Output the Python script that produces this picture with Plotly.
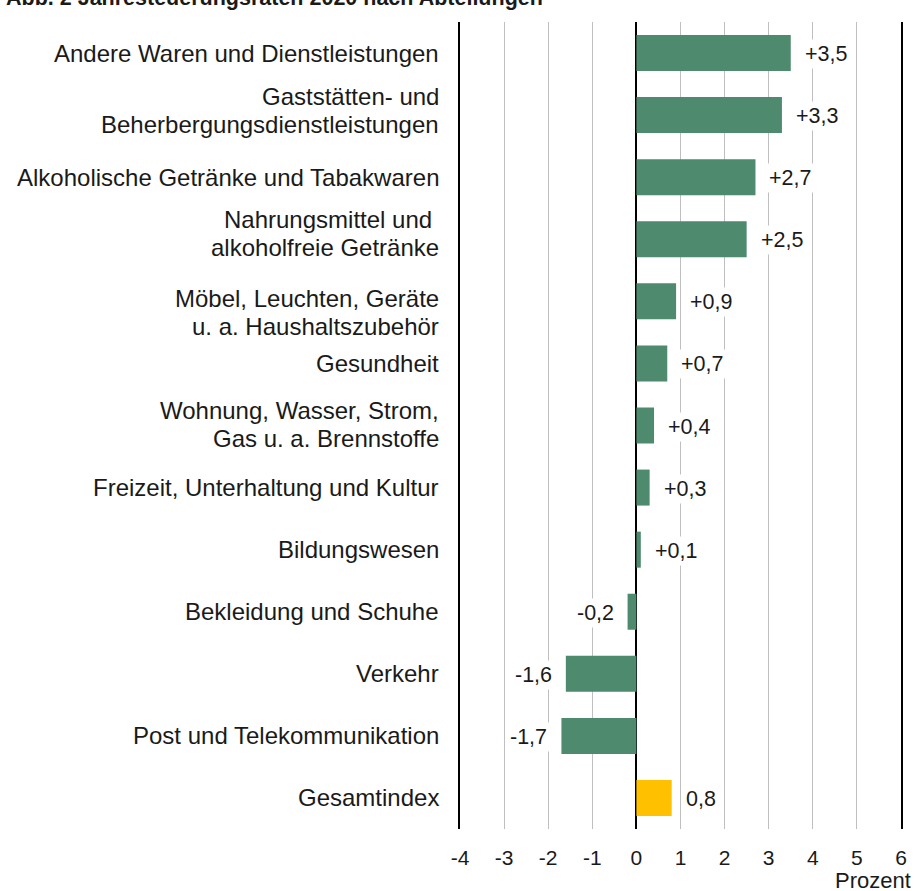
import plotly.graph_objects as go

categories = [
    "Andere Waren und Dienstleistungen",
    "Gaststätten- und<br>Beherbergungsdienstleistungen",
    "Alkoholische Getränke und Tabakwaren",
    "Nahrungsmittel und <br>alkoholfreie Getränke",
    "Möbel, Leuchten, Geräte<br>u. a. Haushaltszubehör",
    "Gesundheit",
    "Wohnung, Wasser, Strom,<br>Gas u. a. Brennstoffe",
    "Freizeit, Unterhaltung und Kultur",
    "Bildungswesen",
    "Bekleidung und Schuhe",
    "Verkehr",
    "Post und Telekommunikation",
    "Gesamtindex",
]
values = [3.5, 3.3, 2.7, 2.5, 0.9, 0.7, 0.4, 0.3, 0.1, -0.2, -1.6, -1.7, 0.8]
value_labels = ["+3,5", "+3,3", "+2,7", "+2,5", "+0,9", "+0,7", "+0,4", "+0,3",
                "+0,1", "-0,2", "-1,6", "-1,7", "0,8"]
x_ticks = [-4, -3, -2, -1, 0, 1, 2, 3, 4, 5, 6]

# layout fine-tuning of the category label blocks (pixels, + = up)
label_nudge = [0, 5, 0, 6, -11, 0, 1, 0, 0, 0, 0, 0, 0]
LINE_GAP = 28

GREEN = "#4E8A6E"
YELLOW = "#FFC000"
colors = [YELLOW if c == "Gesamtindex" else GREEN for c in categories]
ids = list(range(len(categories)))

FONT = "Arial, Liberation Sans, sans-serif"
TXT = "#1a1a1a"

fig = go.Figure()
fig.add_trace(go.Bar(
    x=values, y=ids, orientation="h", width=0.58,
    marker=dict(color=colors, line=dict(width=0)),
    hoverinfo="skip",
))

# category labels (left of plot), each line placed separately for tight spacing
for i, cat in enumerate(categories):
    lines = cat.split("<br>")
    n = len(lines)
    for j, line in enumerate(lines):
        fig.add_annotation(
            x=0, y=i, xref="paper", yref="y", text=line, showarrow=False,
            xanchor="right", yanchor="middle", xshift=-19,
            yshift=-(j - (n - 1) / 2) * LINE_GAP + label_nudge[i],
            font=dict(family=FONT, size=24, color=TXT),
        )

for i, (v, lab) in enumerate(zip(values, value_labels)):
    fig.add_annotation(
        x=v, y=i, xref="x", yref="y", text=lab, showarrow=False,
        xanchor="left" if v >= 0 else "right",
        xshift=11 if v >= 0 else -11,
        yshift=-1,
        bgcolor="white", borderpad=2,
        font=dict(family=FONT, size=21.5, color=TXT),
    )

fig.add_annotation(
    x=1, y=0, xref="paper", yref="paper", xanchor="right", yanchor="top",
    xshift=11, yshift=-39, text="Prozent", showarrow=False,
    height=22, valign="middle", borderpad=0,
    font=dict(family=FONT, size=22, color=TXT),
)

fig.add_annotation(
    x=0, y=1, xref="paper", yref="paper", xanchor="left", yanchor="bottom",
    xshift=-456, yshift=10,
    text="<b>Abb. 2 Jahresteuerungsraten 2020 nach Abteilungen</b>",
    showarrow=False,
    font=dict(family=FONT, size=21.5, color=TXT),
)

fig.update_layout(
    width=919, height=891,
    margin=dict(l=460, r=16, t=22, b=62),
    paper_bgcolor="white", plot_bgcolor="white",
    showlegend=False, bargap=0.42,
    font=dict(family=FONT, size=21, color=TXT),
)
fig.update_xaxes(
    range=[-4, 6], tickmode="array", tickvals=x_ticks,
    ticktext=[str(t) for t in x_ticks],
    showgrid=True, gridcolor="#BFBFBF", gridwidth=1,
    zeroline=True, zerolinecolor="black", zerolinewidth=2,
    showline=False, ticks="", ticklabelstandoff=14,
    tickfont=dict(family=FONT, size=21, color=TXT),
    fixedrange=True,
)
fig.update_yaxes(
    range=[len(categories) - 0.5, -0.5],
    tickmode="array", tickvals=ids, showticklabels=False,
    showgrid=False, zeroline=False,
    showline=True, mirror=True, linecolor="black", linewidth=2,
    ticks="", fixedrange=True,
)

fig.write_html(
    "out.html",
    config={"displayModeBar": False},
    post_script="document.body.style.margin='0';document.body.style.overflow='hidden';",
)
